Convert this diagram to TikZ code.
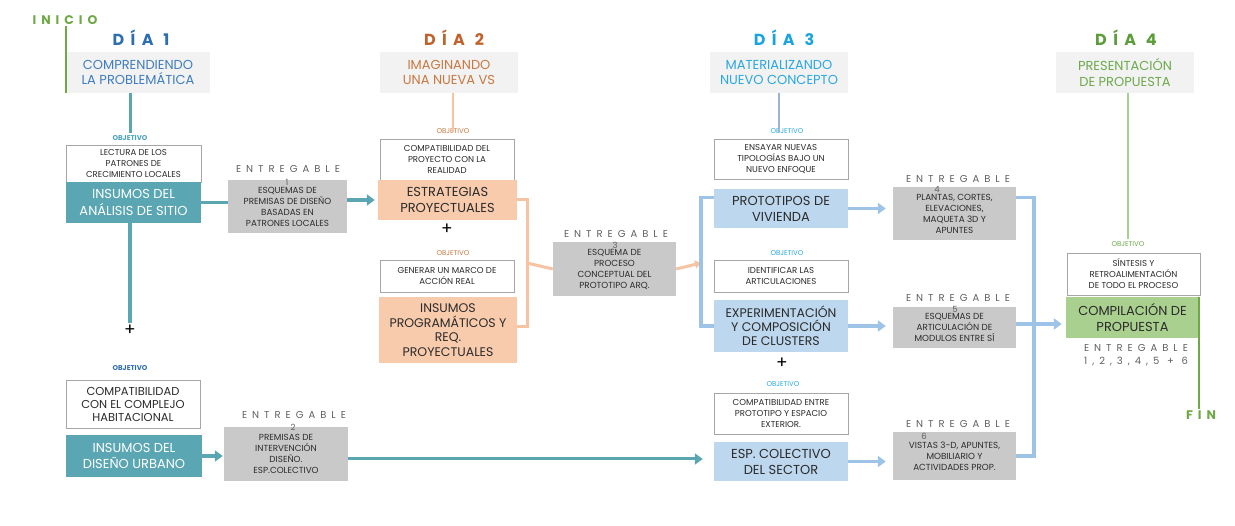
\documentclass[tikz,border=0pt]{standalone}
\usepackage{xcolor}
\usepackage{fontspec}
\setmainfont{Poppins}
\newfontfamily\spacedfont[LetterSpace=50]{Poppins}
\newfontfamily\dayfont[LetterSpace=40]{Poppins}
\usepackage{tikz}
\usetikzlibrary{positioning, arrows.meta}
\definecolor{headgray}{HTML}{F2F2F2}
\definecolor{entgray}{HTML}{C9C9C9}
\definecolor{objline}{HTML}{A6A6A6}
\definecolor{textdark}{HTML}{2B2B2B}
\definecolor{entlabel}{HTML}{606060}
\definecolor{teal}{HTML}{5AA6B2}
\definecolor{peach}{HTML}{F8CBAD}
\definecolor{peachline}{HTML}{F6C4A2}
\definecolor{skyfill}{HTML}{BDD7EE}
\definecolor{skyline}{HTML}{9DC3E6}
\definecolor{leafgreen}{HTML}{A9D08E}
\definecolor{darkleaf}{HTML}{6FA845}
\definecolor{dayone}{HTML}{2E6DB0}
\definecolor{dayonetext}{HTML}{3F7DBE}
\definecolor{daytwo}{HTML}{C0622B}
\definecolor{daytwotext}{HTML}{C97842}
\definecolor{daythree}{HTML}{1AA3DC}
\definecolor{daythreetext}{HTML}{2AA8E0}
\definecolor{dayfour}{HTML}{5C9C3A}
\definecolor{dayfourtext}{HTML}{6DAA4C}
\definecolor{objteal}{HTML}{4BA3BC}

\tikzset{
  daylbl/.style={font=\dayfont\bfseries\fontsize{16}{16}\selectfont, inner sep=1pt},
  headbox/.style={fill=headgray, minimum width=138pt, minimum height=41pt, inner sep=0pt,
    align=center, font=\fontsize{13}{15.5}\selectfont},
  objlbl/.style={font=\fontsize{7}{7}\selectfont, inner sep=2pt},
  objbox/.style={draw=objline, fill=white, line width=0.8pt, minimum width=134pt, inner sep=0pt,
    align=center, text=textdark, font=\fontsize{8.6}{11}\selectfont},
  mainbox/.style={minimum width=134pt, inner sep=0pt, align=center, text=textdark,
    font=\fontsize{13}{16}\selectfont},
  entbox/.style={fill=entgray, minimum width=123pt, inner sep=0pt, align=center,
    text=textdark, font=\fontsize{8.8}{11}\selectfont},
  entlbl/.style={font=\spacedfont\fontsize{10}{10}\selectfont, text=entlabel, inner sep=1pt},
  entnum/.style={font=\fontsize{8.5}{8.5}\selectfont, text=entlabel, inner sep=0pt},
  plus/.style={font=\fontsize{17}{17}\selectfont, inner sep=2pt},
  tealline/.style={draw=teal, line width=3.5pt},
  tealarrow/.style={tealline, -{Triangle[length=8pt,width=11pt]}},
  peachconn/.style={draw=peachline, line width=3pt},
  skyconn/.style={draw=skyline, line width=3.5pt},
  skyarrow/.style={skyconn, -{Triangle[length=8pt,width=11pt]}}
}

\begin{document}
\begin{tikzpicture}[x=1pt, y=-1pt]
  \useasboundingbox (0,0) rectangle (1235,526);

  % start / end
  \node[font=\dayfont\bfseries\fontsize{12.5}{13}\selectfont, text=darkleaf, inner sep=1pt] (inicio) at (65,20) {INICIO};
  \node[font=\dayfont\bfseries\fontsize{12.5}{13}\selectfont, text=darkleaf, inner sep=1pt] (fin) at (1201,415) {FIN};

  % day headings
  \node[daylbl, text=dayone] (dia1) at (141,38) {DÍA 1};
  \node[daylbl, text=daytwo] (dia2) at (454,38) {DÍA 2};
  \node[daylbl, text=daythree] (dia3) at (784,38) {DÍA 3};
  \node[daylbl, text=dayfour] (dia4) at (1126,38) {DÍA 4};

  \node[headbox, minimum width=144pt, text=dayonetext] (head1) at (138,72.5) {COMPRENDIENDO\\LA PROBLEMÁTICA};
  \node[headbox, text=daytwotext] (head2) at (449,72.5) {IMAGINANDO\\UNA NUEVA VS};
  \node[headbox, text=daythreetext] (head3) at (779,72.5) {MATERIALIZANDO\\NUEVO CONCEPTO};
  \node[headbox, text=dayfourtext] (head4) at (1125,72.5) {PRESENTACIÓN\\DE PROPUESTA};

  % dia 1
  \node[objlbl, text=objteal, font=\bfseries\fontsize{7}{7}\selectfont] (objlbl1) at (130,138) {OBJETIVO};
  \node[objbox, minimum width=135pt, minimum height=37pt] (obj1) at (133.5,163.5) {LECTURA DE LOS\\PATRONES DE\\CRECIMIENTO LOCALES};
  \node[mainbox, fill=teal, text=white, minimum width=135pt, minimum height=41pt, font=\fontsize{13}{17}\selectfont] (main1) at (133.5,202.5) {INSUMOS DEL\\ANÁLISIS DE SITIO};
  \node[entlbl] (entlbl1) at (288,169) {ENTREGABLE};
  \node[entbox, minimum width=119pt, minimum height=53pt] (ent1) at (287.5,206.5) {ESQUEMAS DE\\PREMISAS DE DISEÑO\\BASADAS EN\\PATRONES LOCALES};
  \node[entnum] (num1) at (287,182) {1};

  \node[plus] (plus1) at (130,330) {+};
  \node[objlbl, text=dayone, font=\bfseries\fontsize{7}{7}\selectfont] (objlbl4) at (130,368) {OBJETIVO};
  \node[objbox, font=\fontsize{11.5}{13}\selectfont, minimum height=48pt] (obj4) at (133,404) {COMPATIBILIDAD\\CON EL COMPLEJO\\HABITACIONAL};
  \node[mainbox, fill=teal, text=white, minimum width=136pt, minimum height=42pt] (main4) at (134,456) {INSUMOS DEL\\DISEÑO URBANO};
  \node[entlbl] (entlbl2) at (294,415) {ENTREGABLE};
  \node[entbox, minimum width=124pt, minimum height=54pt] (ent2) at (286,454) {PREMISAS DE\\INTERVENCIÓN\\DISEÑO.\\ESP.COLECTIVO};
  \node[entnum] (num2) at (293,427) {2};

  % dia 2
  \node[objlbl, text=daytwotext] (objlbl2) at (453,131) {OBJETIVO};
  \node[objbox, minimum height=41pt] (obj2) at (447,159.5) {COMPATIBILIDAD DEL\\PROYECTO CON LA\\REALIDAD};
  \node[mainbox, fill=peach, minimum width=139pt, minimum height=40pt] (main2) at (447.5,200) {ESTRATEGIAS\\PROYECTUALES};
  \node[plus] (plus2) at (447,229) {+};
  \node[objlbl, text=daytwotext] (objlbl3) at (453,253) {OBJETIVO};
  \node[objbox, minimum height=32pt] (obj3) at (447,276) {GENERAR UN MARCO DE\\ACCIÓN REAL};
  \node[mainbox, fill=peach, minimum width=138pt, minimum height=66pt, font=\fontsize{12.5}{14.5}\selectfont] (main3) at (448,330) {INSUMOS\\PROGRAMÁTICOS Y\\REQ.\\PROYECTUALES};
  \node[entlbl] (entlbl3) at (616,234) {ENTREGABLE};
  \node[entbox, minimum height=54pt] (ent3) at (614.5,269) {ESQUEMA DE\\PROCESO\\CONCEPTUAL DEL\\PROTOTIPO ARQ.};
  \node[entnum] (num3) at (615,245) {3};
  \coordinate (brk2) at (527,263);
  \coordinate (brk3) at (701,263);

  % dia 3
  \node[objlbl, text=daythreetext] (objlbl5) at (787,131) {OBJETIVO};
  \node[objbox, minimum height=40pt] (obj5) at (781,159) {ENSAYAR NUEVAS\\TIPOLOGÍAS BAJO UN\\NUEVO ENFOQUE};
  \node[mainbox, fill=skyfill, minimum height=39pt] (main5) at (781,208.5) {PROTOTIPOS DE\\VIVIENDA};
  \node[objlbl, text=daythreetext] (objlbl6) at (787,253) {OBJETIVO};
  \node[objbox, minimum height=32pt] (obj6) at (781,276) {IDENTIFICAR LAS\\ARTICULACIONES};
  \node[mainbox, fill=skyfill, minimum height=52pt, font=\fontsize{12.5}{14}\selectfont] (main6) at (781,326) {EXPERIMENTACIÓN\\Y COMPOSICIÓN\\DE CLUSTERS};
  \node[plus] (plus3) at (782,363) {+};
  \node[objlbl, text=daythreetext] (objlbl7) at (783,384) {OBJETIVO};
  \node[objbox, minimum height=41pt] (obj7) at (781,413.5) {COMPATIBILIDAD ENTRE\\PROTOTIPO Y ESPACIO\\EXTERIOR.};
  \node[mainbox, fill=skyfill, minimum height=39pt] (main7) at (781,461.5) {ESP. COLECTIVO\\DEL SECTOR};

  \node[entlbl] (entlbl4) at (958,179) {ENTREGABLE};
  \node[entbox, minimum height=53pt] (ent4) at (954.5,213.5) {PLANTAS, CORTES,\\ELEVACIONES,\\MAQUETA 3D Y\\APUNTES};
  \node[entnum] (num4) at (937,189) {4};
  \node[entlbl] (entlbl5) at (958,298) {ENTREGABLE};
  \node[entbox, minimum height=41pt] (ent5) at (954.5,327.5) {ESQUEMAS DE\\ARTICULACIÓN DE\\MODULOS ENTRE SÍ};
  \node[entnum] (num5) at (955,309) {5};
  \node[entlbl] (entlbl6) at (958,424) {ENTREGABLE};
  \node[entbox, minimum height=48pt] (ent6) at (954.5,456) {VISTAS 3-D, APUNTES,\\MOBILIARIO Y\\ACTIVIDADES PROP.};
  \node[entnum] (num6) at (924,436) {6};
  \coordinate (brk4) at (1034,324);

  % dia 4
  \node[objlbl, text=dayfourtext] (objlbl8) at (1128,244) {OBJETIVO};
  \node[objbox, minimum width=133pt, minimum height=42pt] (obj8) at (1133.5,274) {SÍNTESIS Y\\RETROALIMENTACIÓN\\DE TODO EL PROCESO};
  \node[mainbox, fill=leafgreen, minimum width=133pt, minimum height=41pt] (main8) at (1132.5,317.5) {COMPILACIÓN DE\\PROPUESTA};
  \node[entlbl] (entlbl8) at (1136,348) {ENTREGABLE};
  \node[entlbl] (entlist) at (1136,362) {1,2,3,4,5 + 6};

  % connectors
  \draw[darkleaf, line width=2pt] (head1.south west) -- (head1.west |- inicio.south);
  \draw[tealline, line width=3pt] (head1.south -| objlbl1) -- (objlbl1.north);
  \draw[peachconn, line width=2.5pt] (head2.south -| objlbl2) -- ([yshift=-6pt]objlbl2.north);
  \draw[draw=skyline!80!gray, line width=2.5pt] (head3.south) -- ([yshift=-6pt]objlbl5.north -| head3.south);
  \draw[leafgreen, line width=2.5pt] (head4.south -| objlbl8) -- (objlbl8.north);

  \draw[tealline] (main1.south -| objlbl1) -- (plus1.north);
  \draw[tealline] (main1.east) -- (main1.east -| ent1.west);
  \draw[tealarrow] (main2.west -| ent1.east) -- ([xshift=-3pt]main2.west);
  \draw[tealarrow] (main4.east) -- ([xshift=-1pt]main4.east -| ent2.west);
  \draw[tealarrow, line width=3pt] ([yshift=-5pt]ent2.east) -- ([xshift=-11pt,yshift=-5pt]ent2.east -| main7.west);

  \draw[peachconn] (main2.east) -| (brk2) |- ([yshift=3pt]main3.east);
  \draw[peachconn] (brk2) -- (ent3.west);
  \draw[peachconn, -{Triangle[length=6pt,width=8pt]}] (ent3.east) -- (brk3);

  \draw[skyconn] ([yshift=11pt]main5.west) -| (brk3) |- (main6.west);
  \draw[skyarrow] (main5.east) -- ([xshift=-7pt]main5.east -| ent4.west);
  \draw[skyarrow] (main6.east) -- ([xshift=-7pt]main6.east -| ent4.west);
  \draw[skyarrow] (main7.east) -- ([xshift=-7pt]main7.east -| ent4.west);

  \draw[skyconn] ([yshift=16pt]ent4.east) -| (brk4) |- (ent6.east);
  \draw[skyconn] (ent5.east |- brk4) -- (brk4);
  \draw[skyarrow] (brk4) -- ([xshift=-4pt]brk4 -| main8.west);

  \draw[darkleaf, line width=2.5pt] (main8.north east) -- (main8.east |- fin.north);
\end{tikzpicture}
\end{document}
